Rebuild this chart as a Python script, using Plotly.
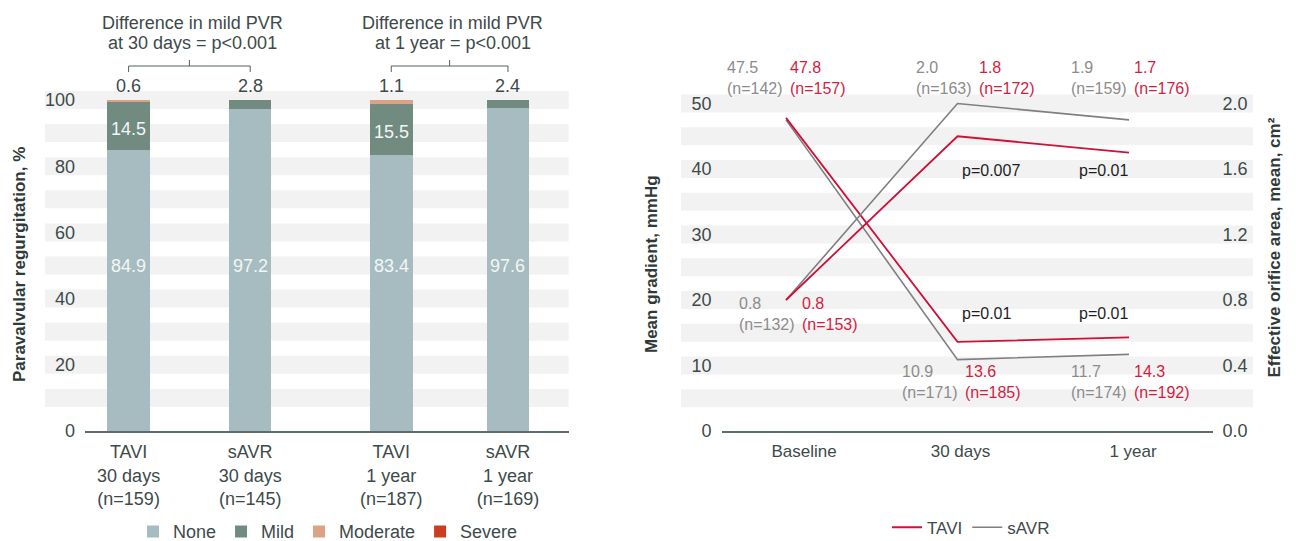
import plotly.graph_objects as go

W, H = 1296, 541
FONT = "Liberation Sans, Arial, sans-serif"

# ---------------- data: left chart (paravalvular regurgitation, %) ----------------
pvr_groups = ["TAVI<br>30 days<br>(n=159)", "sAVR<br>30 days<br>(n=145)",
              "TAVI<br>1 year<br>(n=187)", "sAVR<br>1 year<br>(n=169)"]
pvr_none = [84.9, 97.2, 83.4, 97.6]
pvr_mild = [14.5, 2.8, 15.5, 2.4]
pvr_moderate = [0.6, 0.0, 1.1, 0.0]
pvr_severe = [0.0, 0.0, 0.0, 0.0]
pvr_ticks = [0, 20, 40, 60, 80, 100]
pvr_diff_text = [["Difference in mild PVR", "at 30 days = p<0.001"],
                 ["Difference in mild PVR", "at 1 year = p<0.001"]]

# ---------------- data: right chart (haemodynamics) ----------------
time_points = ["Baseline", "30 days", "1 year"]
grad_tavi = [47.8, 13.6, 14.3]
grad_savr = [47.5, 10.9, 11.7]
grad_n_tavi = [157, 185, 192]
grad_n_savr = [142, 171, 174]
eoa_tavi = [0.8, 1.8, 1.7]
eoa_savr = [0.8, 2.0, 1.9]
eoa_n_tavi = [153, 172, 176]
eoa_n_savr = [132, 163, 159]
p_eoa = ["p=0.007", "p=0.01"]      # at 30 days, 1 year
p_grad = ["p=0.01", "p=0.01"]      # at 30 days, 1 year
grad_ticks = [0, 10, 20, 30, 40, 50]
eoa_ticks = [0.0, 0.4, 0.8, 1.2, 1.6, 2.0]

# ---------------- styling ----------------
C_NONE, C_MILD, C_MOD, C_SEV = "#a6bcc1", "#718b80", "#dba283", "#cc3d1f"
C_TAVI, C_SAVR = "#cf1037", "#7f7f7f"
C_TAVI_TXT, C_SAVR_TXT = "#d41c42", "#8c8c8c"
BAND, AXIS = "#f2f2f2", "#5d6c6c"
TXT, TITLE = "#3d4a4a", "#2f3a3a"

OFF = 8  # page offset of the figure inside the browser window


def px_x(p):
    return (p - OFF) / W


def px_y(p):
    return 1 - (p - OFF) / H


# geometry (target pixels in the window)
TOP, BOT = 90, 431
L_DOM = (85, 568.6)
R_DOM = (721.5, 1212.5)
bar_pos = [0, 1, 2.16, 3.12]
L_XR = [(L_DOM[0] - 128.6) / 121.6, (L_DOM[1] - 128.6) / 121.6]
L_YR = [0, (BOT - TOP) / 3.31]
R_XR = [(R_DOM[0] - 786) / 171.5, (R_DOM[1] - 786) / 171.5]
R_YR = [0, (BOT - TOP) / 6.55]
EOA_PER_GRAD = 0.04
time_idx = list(range(len(time_points)))
time_label_dx = [18, 3, 4]  # px offsets of the category labels
time_tickvals = [i + d / 171.5 for i, d in zip(time_idx, time_label_dx)]

fig = go.Figure()

# ---------------- left: stacked bars ----------------
for name, vals, col in [("None", pvr_none, C_NONE), ("Mild", pvr_mild, C_MILD),
                        ("Moderate", pvr_moderate, C_MOD), ("Severe", pvr_severe, C_SEV)]:
    fig.add_trace(go.Bar(x=bar_pos, y=vals, name=name, width=0.35,
                         marker=dict(color=col, line=dict(width=0)),
                         xaxis="x", yaxis="y", legend="legend"))

# ---------------- right: lines ----------------
fig.add_trace(go.Scatter(x=time_idx, y=grad_savr, mode="lines", name="sAVR", legendgroup="sAVR",
                         legendrank=2, line=dict(color=C_SAVR, width=1.6),
                         xaxis="x2", yaxis="y2", legend="legend2"))
fig.add_trace(go.Scatter(x=time_idx, y=eoa_savr, mode="lines", name="sAVR", legendgroup="sAVR",
                         showlegend=False, line=dict(color=C_SAVR, width=1.6),
                         xaxis="x2", yaxis="y3", legend="legend2"))
fig.add_trace(go.Scatter(x=time_idx, y=grad_tavi, mode="lines", name="TAVI", legendgroup="TAVI",
                         legendrank=1, line=dict(color=C_TAVI, width=1.8),
                         xaxis="x2", yaxis="y2", legend="legend2"))
fig.add_trace(go.Scatter(x=time_idx, y=eoa_tavi, mode="lines", name="TAVI", legendgroup="TAVI",
                         showlegend=False, line=dict(color=C_TAVI, width=1.8),
                         xaxis="x2", yaxis="y3", legend="legend2"))

shapes = []
ann = []

# alternating grid bands
lx0 = (45 - L_DOM[0]) / (L_DOM[1] - L_DOM[0])
lhalf = 18 / 3.31 / 2
for v in range(10, 101, 10):
    shapes.append(dict(type="rect", xref="x domain", yref="y", x0=lx0, x1=1,
                       y0=v - lhalf, y1=v + lhalf, fillcolor=BAND, line=dict(width=0), layer="below"))
rx0 = (681 - R_DOM[0]) / (R_DOM[1] - R_DOM[0])
rx1 = (1253 - R_DOM[0]) / (R_DOM[1] - R_DOM[0])
rhalf = 18 / 6.55 / 2
for v in range(5, 51, 5):
    shapes.append(dict(type="rect", xref="x2 domain", yref="y2", x0=rx0, x1=rx1,
                       y0=v - rhalf, y1=v + rhalf, fillcolor=BAND, line=dict(width=0), layer="below"))

# labels in / above bars
for i, xp in enumerate(bar_pos):
    ann.append(dict(x=xp, y=50, xref="x", yref="y", text=f"{pvr_none[i]:.1f}", showarrow=False,
                    font=dict(family=FONT, size=18, color="#f3f6f6")))
    if pvr_mild[i] > 5:
        ann.append(dict(x=xp, y=pvr_none[i] + pvr_mild[i] / 2, xref="x", yref="y", yshift=-3,
                        text=f"{pvr_mild[i]:.1f}", showarrow=False,
                        font=dict(family=FONT, size=18, color="#f3f6f6")))
    top_val = pvr_moderate[i] if pvr_moderate[i] > 0 else pvr_mild[i]
    total = pvr_none[i] + pvr_mild[i] + pvr_moderate[i] + pvr_severe[i]
    ann.append(dict(x=xp, y=total, xref="x", yref="y", yanchor="bottom", yshift=2,
                    text=f"{top_val:.1f}", showarrow=False,
                    font=dict(family=FONT, size=18, color=TXT)))

# brackets + difference text
for g, (a, b) in enumerate([(0, 1), (2, 3)]):
    xa, xb = bar_pos[a], bar_pos[b]
    xm = (xa + xb) / 2
    shapes.append(dict(type="path", xref="x", yref="paper",
                       path=f"M {xa},{px_y(72)} L {xa},{px_y(66)} L {xb},{px_y(66)} L {xb},{px_y(72)}",
                       line=dict(color="#555f5f", width=1)))
    shapes.append(dict(type="line", xref="x", yref="paper", x0=xm, x1=xm, y0=px_y(66), y1=px_y(60),
                       line=dict(color="#555f5f", width=1)))
    for k, t in enumerate(pvr_diff_text[g]):
        ann.append(dict(x=xm, y=px_y([22.7, 43.3][k]), xref="x", yref="paper", xshift=3,
                        text=t, showarrow=False, yanchor="middle",
                        font=dict(family=FONT, size=18, color=TXT)))

# right-chart value labels
# gradient: top row at baseline, bottom afterwards; EOA: the reverse
row_top = 78.3
rows_bottom = [313.5, 382, 382]
dx_top = [0, 17, 1]
dx_bot = [12, 3, 1]
for i in time_idx:
    if i == 0:
        g_row, g_dx = row_top, dx_top[i]
        e_row, e_dx = rows_bottom[i], dx_bot[i]
    else:
        g_row, g_dx = rows_bottom[i], dx_bot[i]
        e_row, e_dx = row_top, dx_top[i]
    for row, dx, gv, gn, tv, tn in [
        (g_row, g_dx, grad_savr[i], grad_n_savr[i], grad_tavi[i], grad_n_tavi[i]),
        (e_row, e_dx, eoa_savr[i], eoa_n_savr[i], eoa_tavi[i], eoa_n_tavi[i]),
    ]:
        ann.append(dict(x=i, xref="x2", y=px_y(row), yref="paper", xanchor="right", xshift=dx - 1,
                        align="left", yanchor="middle", showarrow=False,
                        text=f"{gv:.1f}<br>(n={gn})",
                        font=dict(family=FONT, size=16, color=C_SAVR_TXT)))
        ann.append(dict(x=i, xref="x2", y=px_y(row), yref="paper", xanchor="left", xshift=dx + 2,
                        align="left", yanchor="middle", showarrow=False,
                        text=f"{tv:.1f}<br>(n={tn})",
                        font=dict(family=FONT, size=16, color=C_TAVI_TXT)))

# p-values
for k, i in enumerate([1, 2]):
    anchor = "left" if i == 1 else "right"
    shift = 2 if i == 1 else 1
    ann.append(dict(x=i, xref="x2", y=px_y(170), yref="paper", xanchor=anchor, xshift=shift,
                    yanchor="middle", text=p_eoa[k], showarrow=False,
                    font=dict(family=FONT, size=16, color="#1e1e1e")))
    ann.append(dict(x=i, xref="x2", y=px_y(313), yref="paper", xanchor=anchor, xshift=shift,
                    yanchor="middle", text=p_grad[k], showarrow=False,
                    font=dict(family=FONT, size=16, color="#1e1e1e")))

# axis titles
for xp, yp, t in [(19.5, 264.5, "Paravalvular regurgitation, %"),
                  (651.5, 264.5, "Mean gradient, mmHg"),
                  (1274, 247.5, "Effective orifice area, mean, cm²")]:
    ann.append(dict(x=px_x(xp), y=px_y(yp), xref="paper", yref="paper", text=f"<b>{t}</b>",
                    textangle=-90, showarrow=False, xanchor="center", yanchor="middle",
                    font=dict(family=FONT, size=17, color=TITLE)))

tickfont = dict(family=FONT, size=18, color=TXT)
fig.update_layout(
    width=W, height=H, margin=dict(l=0, r=0, t=0, b=0, autoexpand=False),
    paper_bgcolor="white", plot_bgcolor="rgba(0,0,0,0)",
    barmode="stack", bargap=0,
    font=dict(family=FONT, size=18, color=TXT),
    shapes=shapes, annotations=ann,
    xaxis=dict(domain=[px_x(L_DOM[0]), px_x(L_DOM[1])], range=L_XR, anchor="y",
               showline=True, linecolor=AXIS, linewidth=1.5, showgrid=False, zeroline=False,
               tickvals=bar_pos, ticktext=pvr_groups, ticks="", ticklabelstandoff=4,
               tickfont=tickfont, fixedrange=True),
    yaxis=dict(domain=[px_y(BOT), px_y(TOP)], range=L_YR, anchor="x",
               showgrid=False, zeroline=False, tickvals=pvr_ticks, ticks="",
               ticklabelstandoff=9, tickfont=tickfont, fixedrange=True),
    xaxis2=dict(domain=[px_x(R_DOM[0]), px_x(R_DOM[1])], range=R_XR, anchor="y2",
                showline=True, linecolor=AXIS, linewidth=1.5, showgrid=False, zeroline=False,
                tickvals=time_tickvals, ticktext=time_points, ticks="", ticklabelstandoff=4,
                tickfont=dict(family=FONT, size=17, color=TXT), fixedrange=True),
    yaxis2=dict(domain=[px_y(BOT), px_y(TOP)], range=R_YR, anchor="x2", side="left",
                showgrid=False, zeroline=False, tickvals=grad_ticks, ticks="",
                ticklabelstandoff=9, tickfont=tickfont, fixedrange=True),
    yaxis3=dict(range=[R_YR[0] * EOA_PER_GRAD, R_YR[1] * EOA_PER_GRAD], overlaying="y2",
                anchor="x2", side="right", showgrid=False, zeroline=False,
                tickvals=eoa_ticks, tickformat=".1f", ticks="",
                ticklabelstandoff=9, tickfont=tickfont, fixedrange=True),
    legend=dict(orientation="h", x=px_x(133), xanchor="left", y=px_y(531.7), yanchor="middle",
                traceorder="normal", font=dict(family=FONT, size=18, color=TXT),
                bgcolor="rgba(0,0,0,0)"),
    legend2=dict(orientation="h", x=px_x(887), xanchor="left", y=px_y(527.7), yanchor="middle",
                 traceorder="normal", font=dict(family=FONT, size=17, color=TXT),
                 bgcolor="rgba(0,0,0,0)"),
    showlegend=True,
)

fig.write_html("out.html")
